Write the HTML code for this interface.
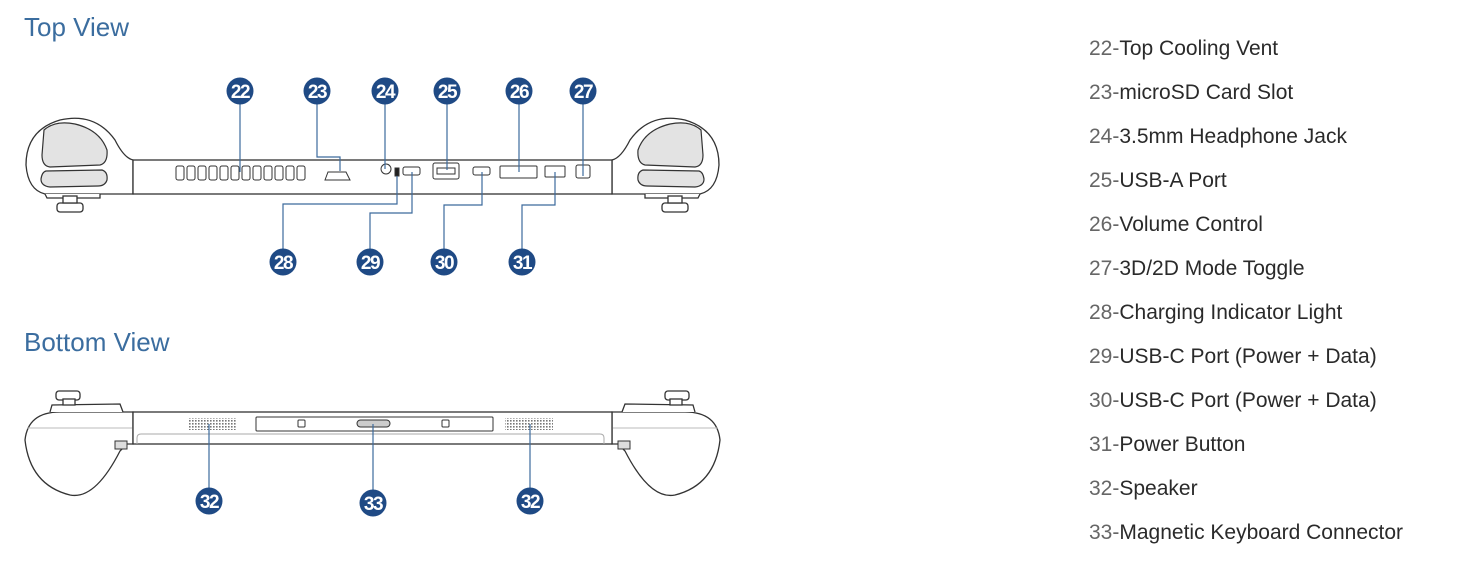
<!DOCTYPE html>
<html><head><meta charset="utf-8"><style>
html,body{margin:0;padding:0;background:#fff;width:1458px;height:580px;overflow:hidden}
svg{display:block}
.t{font-family:"Liberation Sans",sans-serif;fill:#3b6d9f;font-size:26px}
.l{font-family:"Liberation Sans",sans-serif;fill:#2a2a2a;font-size:21px}
.n{fill:#666}
.c{fill:#1f4a85}
.ct{font-family:"Liberation Sans",sans-serif;fill:#fff;font-size:19px;font-weight:bold;text-anchor:middle;letter-spacing:-1.5px}
.ln{stroke:#3c6a9c;stroke-width:1.2;fill:none}
.o{stroke:#333;stroke-width:1.3;fill:#fff}
.p{stroke:#333;stroke-width:1.2;fill:#e3e3e3}
.s{stroke:#333;stroke-width:1;fill:#fff}
</style></head><body>
<svg width="1458" height="580" viewBox="0 0 1458 580">
<defs>
<pattern id="dots" width="3" height="3" patternUnits="userSpaceOnUse"><rect width="1.6" height="1.6" fill="#777"/></pattern>
<g id="tg">
  <path class="o" d="M133,160 L133,194 L45,194 Q28,190 26,165 Q26,130 60,120 Q95,112 115,140 Q124,158 133,160Z"/>
  <path class="p" d="M44,130 Q55,120 75,124 Q100,130 107,150 Q108,163 100,165 L50,167 Q42,166 42,155Z"/>
  <path class="p" d="M46,171 L102,170 Q108,172 107,180 Q105,186 98,186 L50,187 Q41,186 41,179 Q42,172 46,171Z"/>
  <path class="o" d="M45,194 L47,198 L100,198 L100,194"/>
  <rect class="o" x="57" y="203" width="26" height="9" rx="3"/>
  <rect class="o" x="63" y="196" width="14" height="7"/>
</g>
<g id="bg">
  <path class="o" d="M133,412 L133,444 L127,444 L120,451 Q95,500 70,495 Q30,485 25,440 Q28,412 60,412Z"/>
  <path d="M27,428 L133,428" stroke="#bbb" stroke-width="1"/>
  <rect x="115" y="441" width="12" height="8" fill="#ddd" stroke="#333" stroke-width="1"/>
  <path class="o" d="M50,412 L52,405 L120,404 L123,412"/>
  <rect class="o" x="56" y="391" width="24" height="9" rx="3"/>
  <rect class="o" x="63" y="399" width="12" height="6"/>
</g>
</defs>
<text class="t" x="24" y="36">Top View</text>
<text class="t" x="24" y="351">Bottom View</text>

<use href="#tg"/>
<use href="#tg" transform="translate(745,0) scale(-1,1)"/>
<rect class="o" x="133" y="160" width="479" height="34"/>
<g fill="#fff" stroke="#333" stroke-width="1">
<rect x="176" y="166" width="8" height="14" rx="2"/><rect x="187" y="166" width="8" height="14" rx="2"/><rect x="198" y="166" width="8" height="14" rx="2"/><rect x="209" y="166" width="8" height="14" rx="2"/><rect x="220" y="166" width="8" height="14" rx="2"/><rect x="231" y="166" width="8" height="14" rx="2"/><rect x="242" y="166" width="8" height="14" rx="2"/><rect x="253" y="166" width="8" height="14" rx="2"/><rect x="264" y="166" width="8" height="14" rx="2"/><rect x="275" y="166" width="8" height="14" rx="2"/><rect x="286" y="166" width="8" height="14" rx="2"/><rect x="297" y="166" width="8" height="14" rx="2"/>
<path d="M325,180 L328,172 L346,172 L350,180Z"/>
<circle cx="386" cy="169" r="5"/>
<rect x="395" y="168" width="4" height="8" fill="#222"/>
<rect x="403" y="167" width="17" height="8" rx="2"/>
<rect x="433" y="163" width="26" height="16" rx="2"/><rect x="437" y="168" width="18" height="6"/>
<rect x="473" y="167" width="17" height="8" rx="2"/>
<rect x="500" y="166" width="37" height="12" rx="1"/>
<rect x="545" y="166" width="20" height="11" rx="1"/>
<rect x="576" y="165" width="14" height="13" rx="2"/>
</g>
<g class="ln">
<path d="M240,104 V172"/><path d="M317,104 V157 H340 V171"/><path d="M385,104 V169"/><path d="M447,104 V170"/><path d="M519,104 V172"/><path d="M583,104 V176"/>
<path d="M283,249 V204 H397 V176"/><path d="M370,249 V213 H412 V172"/><path d="M444,249 V205 H482 V172"/><path d="M522,249 V205 H555 V172"/>
</g>
<g>
<circle class="c" cx="240" cy="91" r="13.5"/><text class="ct" x="240" y="98">22</text>
<circle class="c" cx="317" cy="91" r="13.5"/><text class="ct" x="317" y="98">23</text>
<circle class="c" cx="385" cy="91" r="13.5"/><text class="ct" x="385" y="98">24</text>
<circle class="c" cx="447" cy="91" r="13.5"/><text class="ct" x="447" y="98">25</text>
<circle class="c" cx="519" cy="91" r="13.5"/><text class="ct" x="519" y="98">26</text>
<circle class="c" cx="583" cy="91" r="13.5"/><text class="ct" x="583" y="98">27</text>
<circle class="c" cx="283" cy="262" r="13.5"/><text class="ct" x="283" y="269">28</text>
<circle class="c" cx="370" cy="262" r="13.5"/><text class="ct" x="370" y="269">29</text>
<circle class="c" cx="444" cy="262" r="13.5"/><text class="ct" x="444" y="269">30</text>
<circle class="c" cx="522" cy="262" r="13.5"/><text class="ct" x="522" y="269">31</text>
</g>

<use href="#bg"/>
<use href="#bg" transform="translate(745,0) scale(-1,1)"/>
<rect class="o" x="133" y="412" width="479" height="32"/>
<path d="M137,444 V438 Q137,434 141,434 H600 Q604,434 604,438 V444" stroke="#aaa" fill="none"/>
<rect x="188" y="418" width="48" height="12" fill="url(#dots)"/>
<rect x="505" y="418" width="48" height="12" fill="url(#dots)"/>
<rect class="s" x="256" y="417" width="237" height="14" rx="1"/>
<rect class="s" x="298" y="420" width="7" height="7" rx="1"/>
<rect class="s" x="442" y="420" width="7" height="7" rx="1"/>
<rect x="357" y="420" width="33" height="7" rx="3.5" fill="#ccc" stroke="#333"/>
<g class="ln"><path d="M209,424 V488"/><path d="M373,424 V490"/><path d="M530,424 V488"/></g>
<circle class="c" cx="209" cy="501" r="13.5"/><text class="ct" x="209" y="508">32</text>
<circle class="c" cx="373" cy="503" r="13.5"/><text class="ct" x="373" y="510">33</text>
<circle class="c" cx="530" cy="501" r="13.5"/><text class="ct" x="530" y="508">32</text>

<g class="l">
<text x="1089" y="55"><tspan class="n">22-</tspan>Top Cooling Vent</text>
<text x="1089" y="99"><tspan class="n">23-</tspan>microSD Card Slot</text>
<text x="1089" y="143"><tspan class="n">24-</tspan>3.5mm Headphone Jack</text>
<text x="1089" y="187"><tspan class="n">25-</tspan>USB-A Port</text>
<text x="1089" y="231"><tspan class="n">26-</tspan>Volume Control</text>
<text x="1089" y="275"><tspan class="n">27-</tspan>3D/2D Mode Toggle</text>
<text x="1089" y="319"><tspan class="n">28-</tspan>Charging Indicator Light</text>
<text x="1089" y="363"><tspan class="n">29-</tspan>USB-C Port (Power + Data)</text>
<text x="1089" y="407"><tspan class="n">30-</tspan>USB-C Port (Power + Data)</text>
<text x="1089" y="451"><tspan class="n">31-</tspan>Power Button</text>
<text x="1089" y="495"><tspan class="n">32-</tspan>Speaker</text>
<text x="1089" y="539"><tspan class="n">33-</tspan>Magnetic Keyboard Connector</text>
</g>
</svg>
</body></html>
